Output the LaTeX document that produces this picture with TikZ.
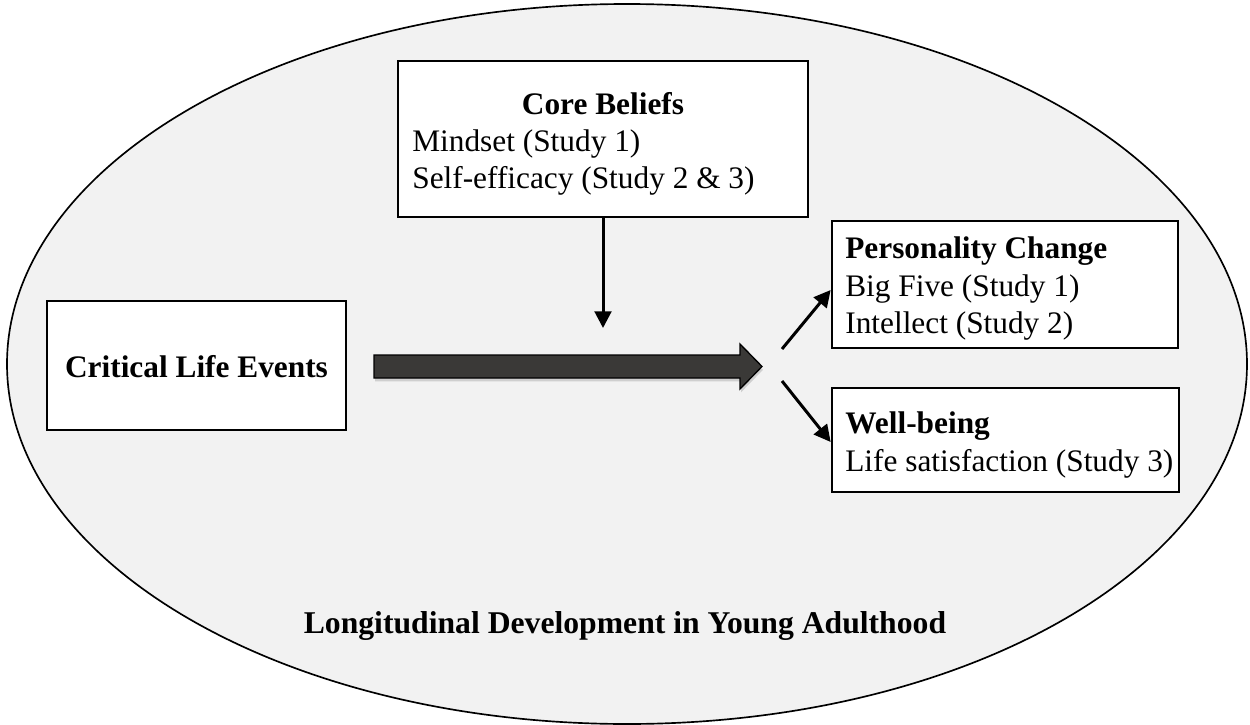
\documentclass[tikz,border=0pt]{standalone}
\usepackage{fontspec}
\setmainfont{Liberation Serif}
\usetikzlibrary{arrows.meta,shadows,fit}
\definecolor{panel}{HTML}{F2F2F2}
\definecolor{flowdark}{HTML}{3A3937}

\begin{document}
\begin{tikzpicture}[x=0.6pt,y=-0.6pt,
  box/.style={draw=black,line width=1.6pt,fill=white,inner sep=0pt},
  txt/.style={inner sep=0pt,font=\fontsize{18.8}{22}\selectfont},
  head/.style={txt,font=\fontsize{18.8}{22}\selectfont\bfseries},
  link/.style={line width=1.8pt,-{Triangle[length=10pt,width=10pt]}}
]
\useasboundingbox (0,0) rectangle (1250,725);

% backdrop: the developmental period
\draw[fill=panel,line width=1pt] (627,364) ellipse [x radius=620, y radius=360];

% boxes
\node[box,fit={(398,61) (808,217)}] (core) {};
\node[box,fit={(47,301) (346,430)}] (events) {};
\node[box,fit={(832,221) (1178,348)}] (pers) {};
\node[box,fit={(832,388) (1179,492)}] (well) {};

% box texts
\node[head,anchor=base] (coreT) at (603,114) {Core Beliefs};
\node[txt,anchor=base west] (coreA) at (412,151) {Mindset (Study 1)};
\node[txt,anchor=base west] (coreB) at (412,188) {Self-efficacy (Study 2 \& 3)};

\node[head,anchor=base] (eventsT) at (196.5,377) {Critical Life Events};

\node[head,anchor=base west] (persT) at (845,258) {Personality Change};
\node[txt,anchor=base west] (persA) at (845,296) {Big Five (Study 1)};
\node[txt,anchor=base west] (persB) at (845,333) {Intellect (Study 2)};

\node[head,anchor=base west] (wellT) at (845,433) {Well-being};
\node[txt,anchor=base west] (wellA) at (845,471) {Life satisfaction (Study 3)};

\node[head,anchor=base,font=\fontsize{19}{22}\selectfont\bfseries] (title) at (625,633) {Longitudinal Development in Young Adulthood};

% main effect arrow
\filldraw[fill=flowdark,draw=black,line width=0.8pt,
  drop shadow={shadow xshift=0.6pt,shadow yshift=-2pt,opacity=0.3}]
  (374,355) -- (740,355) -- (740,344) -- (762,366.5) -- (740,389) -- (740,378) -- (374,378) -- cycle;

% moderator arrow
\coordinate (modEnd) at (603,328);
\draw[link] (core.south -| modEnd) -- (modEnd);

% outcome arrows
\coordinate (splitU) at (782,349);
\coordinate (splitD) at (782,381);
\draw[link] (splitU) -- (pers.west |- 0,290);
\draw[link] (splitD) -- (well.west |- 0,442);
\end{tikzpicture}
\end{document}
